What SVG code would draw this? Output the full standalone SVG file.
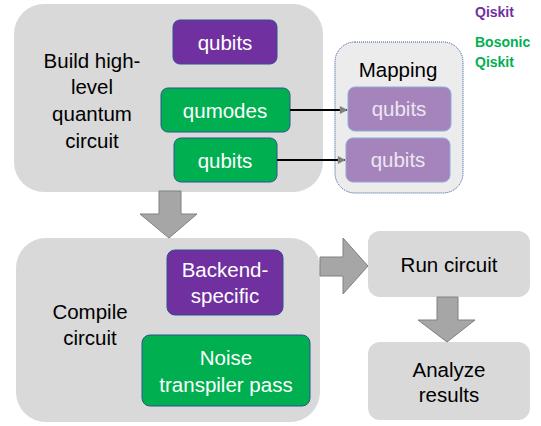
<svg xmlns="http://www.w3.org/2000/svg" width="541" height="426" viewBox="0 0 541 426">
<defs>
<style>
text{font-family:"Liberation Sans",Arial,sans-serif;font-size:20.5px;text-anchor:middle}
.panel{fill:#d9d9d9}
.purple{fill:#7030a0;stroke:#2f528f;stroke-width:1}
.green{fill:#00b050;stroke:#2f528f;stroke-width:1}
.lpurple{fill:#a484ba;stroke:#8faadc;stroke-width:1}
.w{fill:#ffffff}
.lw{fill:#ece6f2}
.k{fill:#000000}
.big{fill:#a6a6a6;stroke:#808080;stroke-width:1}
.conn{stroke:#000;stroke-width:2;fill:none}
.leg{font-weight:bold;font-size:14px;text-anchor:start}
</style>
<marker id="ah" viewBox="0 0 10 10" refX="9" refY="5" markerWidth="4.5" markerHeight="4" orient="auto" markerUnits="strokeWidth">
<path d="M0,0 L10,5 L0,10 z" fill="#808080"/>
</marker>
</defs>

<g id="build">
<rect class="panel" x="14" y="4" width="309" height="188" rx="30"/>
<text class="k" x="92" y="68">Build high-</text>
<text class="k" x="92" y="94">level</text>
<text class="k" x="92" y="121">quantum</text>
<text class="k" x="92" y="148">circuit</text>
</g>
<g id="qubits-qiskit">
<rect class="purple" x="173" y="20" width="104" height="44" rx="7"/>
<text class="w" x="225" y="50">qubits</text>
</g>
<g id="qumodes">
<rect class="green" x="161" y="88" width="129" height="44" rx="7"/>
<text class="w" x="225" y="118">qumodes</text>
</g>
<g id="qubits-bosonic">
<rect class="green" x="174" y="138" width="103" height="44" rx="7"/>
<text class="w" x="225" y="168">qubits</text>
</g>

<g id="mapping">
<rect x="335" y="42" width="128" height="151" rx="20" fill="#ececec" stroke="#2f5597" stroke-width="1" stroke-dasharray="1,1"/>
<text class="k" x="398" y="77">Mapping</text>
</g>
<g id="map-qubits-1">
<rect class="lpurple" x="348" y="87" width="103" height="44" rx="7"/>
<text class="lw" x="399" y="116">qubits</text>
</g>
<g id="map-qubits-2">
<rect class="lpurple" x="346" y="138" width="104" height="44" rx="7"/>
<text class="lw" x="398" y="167">qubits</text>
</g>

<g id="legend">
<text class="leg" x="475" y="17" fill="#7030a0">Qiskit</text>
<text class="leg" x="475" y="47" fill="#00b050">Bosonic</text>
<text class="leg" x="475" y="67" fill="#00b050">Qiskit</text>
</g>

<g id="compile">
<rect class="panel" x="16" y="238" width="304" height="184" rx="30"/>
<text class="k" x="90" y="319">Compile</text>
<text class="k" x="90" y="345">circuit</text>
</g>
<g id="backend">
<rect class="purple" x="167" y="250" width="116" height="65" rx="8"/>
<text class="w" x="225" y="277">Backend-</text>
<text class="w" x="225" y="303">specific</text>
</g>
<g id="noise">
<rect class="green" x="142" y="335" width="168" height="71" rx="8"/>
<text class="w" x="226" y="365">Noise</text>
<text class="w" x="226" y="392">transpiler pass</text>
</g>

<g id="run">
<rect class="panel" x="368" y="231" width="162" height="66" rx="12"/>
<text class="k" x="449" y="272">Run circuit</text>
</g>
<g id="analyze">
<rect class="panel" x="368" y="342" width="162" height="78" rx="12"/>
<text class="k" x="449" y="377">Analyze</text>
<text class="k" x="449" y="402">results</text>
</g>

<g id="connectors">
<line class="conn" x1="290" y1="110" x2="347" y2="110" marker-end="url(#ah)"/>
<line class="conn" x1="277" y1="160" x2="345" y2="160" marker-end="url(#ah)"/>
<path class="big" d="M159,191 L181,191 L181,214 L197,214 L169,238 L140,214 L159,214 Z"/>
<path class="big" d="M320,257 L343,257 L343,238 L368,266 L343,294 L343,276 L320,276 Z"/>
<path class="big" d="M437,297 L458,297 L458,320 L475,320 L447,342 L418,320 L437,320 Z"/>
</g>
</svg>
